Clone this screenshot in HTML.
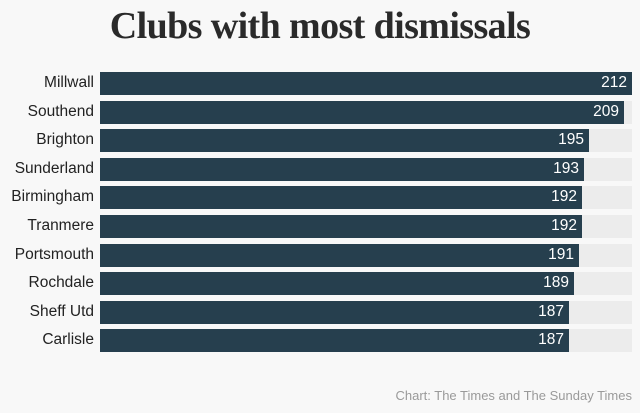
<!DOCTYPE html>
<html><head><meta charset="utf-8"><style>
html,body{margin:0;padding:0;}
body{width:640px;height:413px;background:#f8f8f8;position:relative;overflow:hidden;font-family:"Liberation Sans",sans-serif;}
h1{position:absolute;top:4px;left:0;width:640px;text-align:center;margin:0;font-family:"Liberation Serif",serif;font-weight:bold;font-size:38px;color:#2a2a2a;letter-spacing:-0.6px;}
.row{position:absolute;left:0;height:23px;width:640px;}
.lab{position:absolute;right:546px;top:2px;font-size:15.5px;color:#222;white-space:nowrap;}
.track{position:absolute;left:100px;width:532px;top:0;height:23px;background:#ececec;}
.bar{position:absolute;left:100px;top:0;height:23px;background:#263f4e;}
.val{position:absolute;right:5px;top:2px;color:#fff;font-size:15.5px;}
.foot{position:absolute;right:8px;top:388px;font-size:13px;color:#9a9a9a;}
</style></head><body>
<h1>Clubs with most dismissals</h1>
<div class="row" style="top:72px"><div class="lab">Millwall</div><div class="track"></div><div class="bar" style="width:532px"><span class="val">212</span></div></div>
<div class="row" style="top:100.6px"><div class="lab">Southend</div><div class="track"></div><div class="bar" style="width:524px"><span class="val">209</span></div></div>
<div class="row" style="top:129.2px"><div class="lab">Brighton</div><div class="track"></div><div class="bar" style="width:489px"><span class="val">195</span></div></div>
<div class="row" style="top:157.8px"><div class="lab">Sunderland</div><div class="track"></div><div class="bar" style="width:484px"><span class="val">193</span></div></div>
<div class="row" style="top:186.4px"><div class="lab">Birmingham</div><div class="track"></div><div class="bar" style="width:482px"><span class="val">192</span></div></div>
<div class="row" style="top:215px"><div class="lab">Tranmere</div><div class="track"></div><div class="bar" style="width:482px"><span class="val">192</span></div></div>
<div class="row" style="top:243.6px"><div class="lab">Portsmouth</div><div class="track"></div><div class="bar" style="width:479px"><span class="val">191</span></div></div>
<div class="row" style="top:272.2px"><div class="lab">Rochdale</div><div class="track"></div><div class="bar" style="width:474px"><span class="val">189</span></div></div>
<div class="row" style="top:300.8px"><div class="lab">Sheff Utd</div><div class="track"></div><div class="bar" style="width:469px"><span class="val">187</span></div></div>
<div class="row" style="top:329.4px"><div class="lab">Carlisle</div><div class="track"></div><div class="bar" style="width:469px"><span class="val">187</span></div></div>
<div class="foot">Chart: The Times and The Sunday Times</div>
</body></html>
